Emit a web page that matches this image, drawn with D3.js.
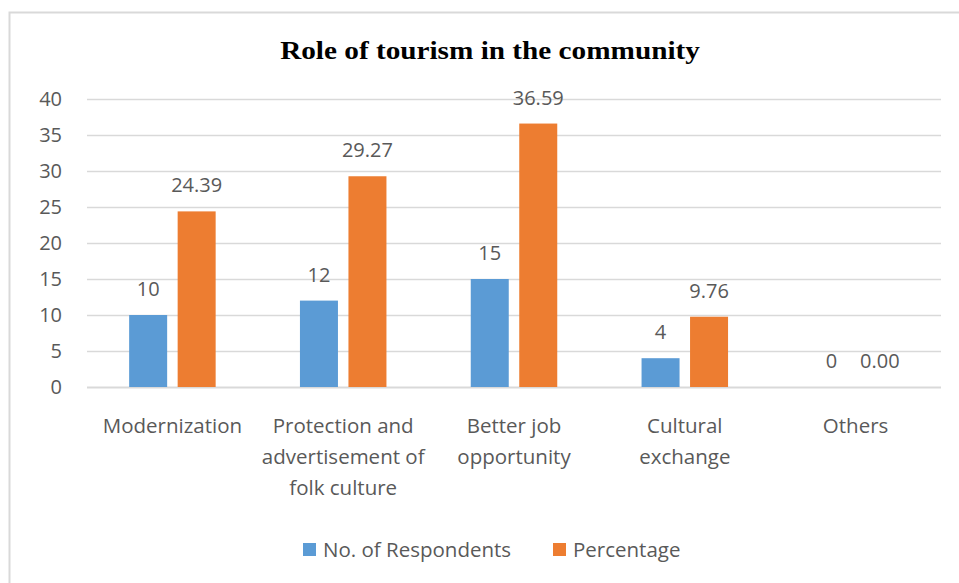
<!DOCTYPE html>
<html>
<head>
<meta charset="utf-8">
<script src="https://cdn.jsdelivr.net/npm/d3@7"></script>
<style>
  html, body { margin: 0; padding: 0; background: #fff; }
  svg { display: block; }
</style>
</head>
<body>
<svg id="chart" width="959" height="583"></svg>
<script>
// Chart data
const categories = [
  ["Modernization"],
  ["Protection and", "advertisement of", "folk culture"],
  ["Better job", "opportunity"],
  ["Cultural", "exchange"],
  ["Others"]
];
const respondents = [10, 12, 15, 4, 0];
const percentage = [24.39, 29.27, 36.59, 9.76, 0.00];
const seriesNames = ["No. of Respondents", "Percentage"];
const yTicks = [0, 5, 10, 15, 20, 25, 30, 35, 40];

const colors = ["#5B9BD5", "#ED7D31"];
const textColor = "#595959";
const font = "'Open Sans', 'Liberation Sans', sans-serif";

const svg = d3.select("#chart");
const W = 959, H = 583;
const margin = { left: 87, right: 18, top: 99, bottom: 196 };
const plotW = W - margin.left - margin.right;
const plotH = H - margin.top - margin.bottom;

// Outer chart frame
svg.append("rect")
  .attr("x", 9.5).attr("y", 12.5)
  .attr("width", W + 20).attr("height", H + 20)
  .attr("fill", "#fff").attr("stroke", "#D9D9D9").attr("stroke-width", 2);

// Title (slightly widened serif)
svg.append("text")
  .attr("transform", "translate(490,59) scale(1.17,1)")
  .attr("text-anchor", "middle")
  .attr("font-family", "'Liberation Serif', 'Times New Roman', serif")
  .attr("font-weight", "bold")
  .attr("font-size", 25)
  .attr("fill", "#000")
  .text("Role of tourism in the community");

const g = svg.append("g").attr("transform", `translate(${margin.left},${margin.top})`);

const x0 = d3.scaleBand().domain(d3.range(categories.length)).range([0, plotW]).padding(0);
const y = d3.scaleLinear().domain([0, 40]).range([plotH, 0]);

// Gridlines
g.append("g")
  .selectAll("line")
  .data(yTicks)
  .join("line")
  .attr("x1", 0).attr("x2", plotW)
  .attr("y1", d => Math.round(y(d)) + 0.5).attr("y2", d => Math.round(y(d)) + 0.5)
  .attr("stroke", "#D9D9D9").attr("stroke-width", d => d === 0 ? 2 : 1.5);

// Y axis labels
const yAxis = d3.axisLeft(y).tickValues(yTicks).tickSize(0).tickPadding(25);
const yg = g.append("g").call(yAxis);
yg.select(".domain").remove();
yg.selectAll("text")
  .attr("font-family", font).attr("font-size", 20).attr("fill", textColor);

// Bars
const barW = 38, gap = 10.5;
const offsets = [-(gap / 2 + barW), gap / 2];
const series = [respondents, percentage];
const fmt = [d => d3.format("d")(d), d => d3.format(".2f")(d)];

series.forEach((vals, si) => {
  const cx = i => x0(i) + x0.bandwidth() / 2;
  g.append("g")
    .selectAll("rect")
    .data(vals)
    .join("rect")
    .attr("x", (d, i) => cx(i) + offsets[si])
    .attr("y", d => y(d))
    .attr("width", barW)
    .attr("height", d => plotH - y(d))
    .attr("fill", colors[si]);

  g.append("g")
    .selectAll("text")
    .data(vals)
    .join("text")
    .attr("x", (d, i) => cx(i) + offsets[si] + barW / 2)
    .attr("y", d => y(d) - 19)
    .attr("text-anchor", "middle")
    .attr("font-family", font).attr("font-size", 20).attr("fill", textColor)
    .text(d => fmt[si](d));
});

// Category labels
const xl = g.append("g");
categories.forEach((lines, i) => {
  const t = xl.append("text")
    .attr("x", x0(i) + x0.bandwidth() / 2)
    .attr("y", plotH + 46)
    .attr("text-anchor", "middle")
    .attr("font-family", font).attr("font-size", 20.5).attr("fill", textColor);
  lines.forEach((ln, k) => {
    t.append("tspan")
      .attr("x", x0(i) + x0.bandwidth() / 2)
      .attr("dy", k === 0 ? 0 : 31)
      .text(ln);
  });
});

// Legend
const legend = svg.append("g");
const legendItems = [
  { name: seriesNames[0], color: colors[0], x: 303 },
  { name: seriesNames[1], color: colors[1], x: 553 }
];
legendItems.forEach(it => {
  legend.append("rect")
    .attr("x", it.x).attr("y", 543).attr("width", 13).attr("height", 13)
    .attr("fill", it.color);
  legend.append("text")
    .attr("x", it.x + 20).attr("y", 557)
    .attr("font-family", font).attr("font-size", 20.5).attr("fill", textColor)
    .text(it.name);
});
</script>
</body>
</html>
